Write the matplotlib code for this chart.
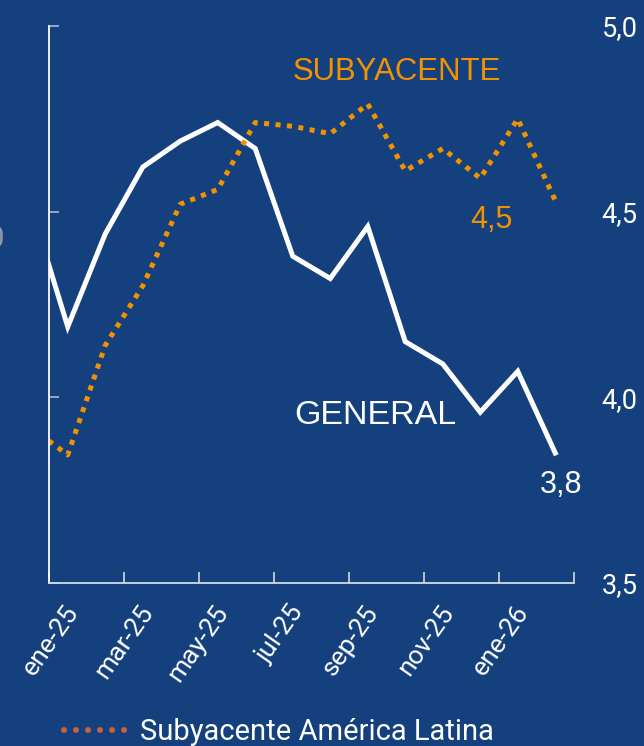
import numpy as np
import matplotlib.pyplot as plt
from matplotlib.lines import Line2D
import matplotlib.transforms as mtransforms

# monthly data, dic-24 .. feb-26 (first point sits left of the axis and is clipped)
months = ['dic-24', 'ene-25', 'feb-25', 'mar-25', 'abr-25', 'may-25', 'jun-25', 'jul-25',
          'ago-25', 'sep-25', 'oct-25', 'nov-25', 'dic-25', 'ene-26', 'feb-26']
general = [4.52, 4.19, 4.44, 4.62, 4.69, 4.74, 4.67, 4.38, 4.32, 4.46, 4.15, 4.09, 3.96, 4.07, 3.85]
subyacente = [3.92, 3.845, 4.14, 4.30, 4.52, 4.56, 4.74, 4.73, 4.71, 4.79, 4.61, 4.67, 4.59, 4.75, 4.53]
yticks = [3.5, 4.0, 4.5, 5.0]
ytick_labels = ['3,5', '4,0', '4,5', '5,0']
label_months = ['ene-25', 'mar-25', 'may-25', 'jul-25', 'sep-25', 'nov-25', 'ene-26']

bg = '#14417e'
orange = '#f39200'

fig = plt.figure(figsize=(6.44, 7.46), dpi=100, facecolor=bg)
ax = fig.add_axes([49/644, 1-583/746, 525/644, 557/746])
ax.set_facecolor(bg)

x = np.arange(len(months)) - 1

ax.plot(x, general, color='white', lw=3.6, solid_joinstyle='miter')
ax.plot(x, subyacente, color=orange, lw=3.6, dashes=(1, 1.3))

ax.set_xlim(-0.5, 13.5)
ax.set_ylim(3.5, 5.0)

# spines
for s in ['top', 'right']:
    ax.spines[s].set_visible(False)
ax.spines['left'].set_color('white')
ax.spines['left'].set_linewidth(1.3)
ax.spines['bottom'].set_color('#d3d9e2')
ax.spines['bottom'].set_linewidth(1.3)

# y axis: ticks inside on the left, labels on the right
ax.set_yticks(yticks)
ax.set_yticklabels(ytick_labels)
ax.tick_params(axis='y', direction='in', length=7, width=1.3, color='#9fb0c8',
               left=True, right=False, labelleft=False, labelright=True,
               pad=20, labelsize=19.5, labelcolor='white')
for t in ax.get_yticklabels():
    t.set_fontfamily('Roboto')

# x axis: tick marks between category pairs, labels on category centres
ax.set_xticks(np.arange(-0.5, 14, 2))
ax.set_xticklabels([])
ax.tick_params(axis='x', which='major', direction='in', length=8, width=1.3, color='#c5cdd9')
label_pos = [months.index(m) - 1 for m in label_months]
ax.set_xticks(label_pos, minor=True)
ax.set_xticklabels(label_months, minor=True, rotation=55, ha='right', va='top',
                   rotation_mode='anchor', fontsize=19, color='white', family='Roboto')
ax.tick_params(axis='x', which='minor', length=0, pad=13)
shift = mtransforms.ScaledTranslation(-4/100, 0, fig.dpi_scale_trans)
for t in ax.get_xticklabels(minor=True):
    t.set_transform(t.get_transform() + shift)

# annotations
ax.text(293/644, 1-72/746, 'SUBYACENTE', transform=fig.transFigure, color=orange,
        fontsize=22.4, family='Liberation Sans', va='center', ha='left')
ax.text(294/644, 1-415/746, 'GENERAL', transform=fig.transFigure, color='white',
        fontsize=24.5, family='Liberation Sans', va='center', ha='left')
ax.text(470/644, 1-220/746, '4,5', transform=fig.transFigure, color=orange,
        fontsize=22, family='Liberation Sans', va='center', ha='left')
ax.text(540/644, 1-485/746, '3,8', transform=fig.transFigure, color='white',
        fontsize=22, family='Liberation Sans', va='center', ha='left')

# partial label cut by the left edge
fig.text(-4/644, 1-239/746, '0', color='#8d98a8', fontsize=21, family='Roboto',
         ha='center', va='center')

# legend
handle = Line2D([], [], color='#c8613f', lw=4.3, dashes=(0.01, 2.0),
                dash_capstyle='round')
fig.legend(handles=[handle], labels=['Subyacente América Latina'], loc='center left',
           bbox_to_anchor=(38/644, 1-732/746), frameon=False, handlelength=2.3,
           handletextpad=0.3, prop={'family': 'Roboto', 'size': 21}, labelcolor='white')

fig.savefig('out.png', dpi=100, facecolor=bg)
